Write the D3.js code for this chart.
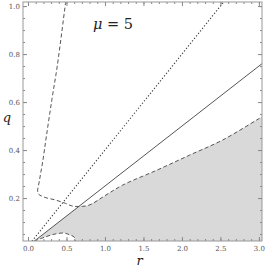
<!DOCTYPE html>
<html>
<head>
<meta charset="utf-8">
<script src="https://cdn.jsdelivr.net/npm/d3@7"></script>
<style>
  body { margin: 0; background: #fff; }
  svg { display: block; }
</style>
</head>
<body>
<div id="chart"></div>
<script>
// straight lines q = slope * r
let solidSlope = 0.25;
let dottedSlope = 0.4;

// upper dashed curve (comes down from top, turns, bounds the shaded area)
let dashR = [0.49, 0.38, 0.31, 0.24, 0.19, 0.15, 0.13, 0.2, 0.355, 0.485, 0.57, 0.66, 0.79, 1.0, 1.23, 1.68, 2.1, 2.53, 2.97, 3.05];
let dashQ = [1.02, 0.75, 0.61, 0.46, 0.35, 0.275, 0.22, 0.205, 0.192, 0.178, 0.167, 0.165, 0.17, 0.21, 0.254, 0.317, 0.379, 0.442, 0.525, 0.54];
let crossIndex = 11; // where the dashed curve meets the solid line

// small dashed bump near the bottom
let bumpR = [0.08, 0.22, 0.35, 0.47, 0.545, 0.6, 0.62];
let bumpQ = [0.02, 0.0375, 0.05, 0.054, 0.046, 0.0375, 0.018];

let xTicks = [0, 0.5, 1, 1.5, 2, 2.5, 3];
let yTicks = [0.2, 0.4, 0.6, 0.8, 1.0];

let serif = "'DejaVu Serif', 'Liberation Serif', serif";
let width = 266, height = 269;
let margin = {top: 2, right: 4, bottom: 28, left: 23};

let x = d3.scaleLinear().domain([-0.065, 3.04]).range([margin.left, width - margin.right]);
let y = d3.scaleLinear().domain([0.021, 1.017]).range([height - margin.bottom, margin.top]);

let svg = d3.select("#chart").append("svg")
   .attr("width", width)
   .attr("height", height);

svg.append("clipPath").attr("id", "clip")
   .append("rect")
   .attr("x", x.range()[0]).attr("y", y.range()[1])
   .attr("width", x.range()[1] - x.range()[0])
   .attr("height", y.range()[0] - y.range()[1]);

let plot = svg.append("g").attr("clip-path", "url(#clip)");
let qMin = y.domain()[0] - 0.02;
let rMax = x.domain()[1] + 0.02;

// shaded region
let region = [];
region.push([bumpR[0], solidSlope * bumpR[0]]);
for (let i = crossIndex; i < dashR.length; i++) region.push([dashR[i], dashQ[i]]);
region.push([rMax, dashQ[dashQ.length - 1]]);
region.push([rMax, qMin]);
region.push([bumpR[bumpR.length - 1], qMin]);
for (let i = bumpR.length - 1; i >= 0; i--) region.push([bumpR[i], bumpQ[i]]);

plot.append("path")
   .datum(region)
   .attr("d", d3.line().x(d => x(d[0])).y(d => y(d[1])))
   .attr("fill", "#d9d9d9")
   .attr("stroke", "none");

let curveLine = d3.line().x(d => x(d[0])).y(d => y(d[1])).curve(d3.curveCatmullRom.alpha(0.5));

// dotted line
plot.append("path")
   .datum([[0, 0], [3.2, dottedSlope * 3.2]])
   .attr("d", curveLine)
   .attr("fill", "none").attr("stroke", "#444").attr("stroke-width", 1.2)
   .attr("stroke-dasharray", "1.2,2");

// solid line
plot.append("path")
   .datum([[0, 0], [3.2, solidSlope * 3.2]])
   .attr("d", curveLine)
   .attr("fill", "none").attr("stroke", "#555").attr("stroke-width", 1);

// dashed curves
plot.append("path")
   .datum(dashR.map((r, i) => [r, dashQ[i]]))
   .attr("d", curveLine)
   .attr("fill", "none").attr("stroke", "#555").attr("stroke-width", 1)
   .attr("stroke-dasharray", "4,2.5");

plot.append("path")
   .datum(bumpR.map((r, i) => [r, bumpQ[i]]))
   .attr("d", curveLine)
   .attr("fill", "none").attr("stroke", "#555").attr("stroke-width", 1)
   .attr("stroke-dasharray", "4,2.5");

// axes with inward ticks
let xMinor = d3.range(0, 3.05, 0.1);
let yMinor = d3.range(0.05, 1.01, 0.05);
let x0 = x.range()[0], x1 = x.range()[1], y0 = y.range()[0], y1 = y.range()[1];

function addAxis(axis, tx, ty, labels) {
   let g = svg.append("g").attr("transform", "translate(" + tx + "," + ty + ")").call(axis);
   g.select(".domain").remove();
   g.attr("font-family", serif).attr("font-size", 7);
   g.selectAll(".tick line").attr("stroke", "#888");
   g.selectAll(".tick text").attr("fill", "#555");
   if (!labels) g.selectAll(".tick text").remove();
   return g;
}

addAxis(d3.axisBottom(x).tickValues(xMinor).tickSize(-2).tickFormat(""), 0, y0, false);
addAxis(d3.axisTop(x).tickValues(xMinor).tickSize(-2).tickFormat(""), 0, y1, false);
addAxis(d3.axisLeft(y).tickValues(yMinor).tickSize(-2).tickFormat(""), x0, 0, false);
addAxis(d3.axisRight(y).tickValues(yMinor).tickSize(-2).tickFormat(""), x1, 0, false);

addAxis(d3.axisBottom(x).tickValues(xTicks).tickSize(-4).tickPadding(5).tickFormat(d3.format(".1f")), 0, y0, true);
addAxis(d3.axisTop(x).tickValues(xTicks).tickSize(-4).tickFormat(""), 0, y1, false);
addAxis(d3.axisLeft(y).tickValues(yTicks).tickSize(-4).tickPadding(3).tickFormat(d3.format(".1f")), x0, 0, true);
addAxis(d3.axisRight(y).tickValues(yTicks).tickSize(-4).tickFormat(""), x1, 0, false);

// frame
svg.append("rect")
   .attr("x", x0).attr("y", y1)
   .attr("width", x1 - x0).attr("height", y0 - y1)
   .attr("fill", "none").attr("stroke", "#999").attr("stroke-width", 1);

// axis labels
svg.append("text")
   .attr("x", (x0 + x1) / 2 - 3).attr("y", 265)
   .attr("text-anchor", "middle")
   .attr("font-family", serif).attr("font-style", "italic")
   .attr("font-size", 13).attr("fill", "#222")
   .text("r");

svg.append("text")
   .attr("x", 7).attr("y", 122)
   .attr("text-anchor", "middle")
   .attr("font-family", serif).attr("font-style", "italic")
   .attr("font-size", 13).attr("fill", "#222")
   .text("q");

let mu = svg.append("text")
   .attr("x", 93).attr("y", 29)
   .attr("font-family", serif)
   .attr("font-size", 14.5).attr("fill", "#222");
mu.append("tspan").attr("font-style", "italic").text("μ");
mu.append("tspan").text(" = 5");
</script>
</body>
</html>
